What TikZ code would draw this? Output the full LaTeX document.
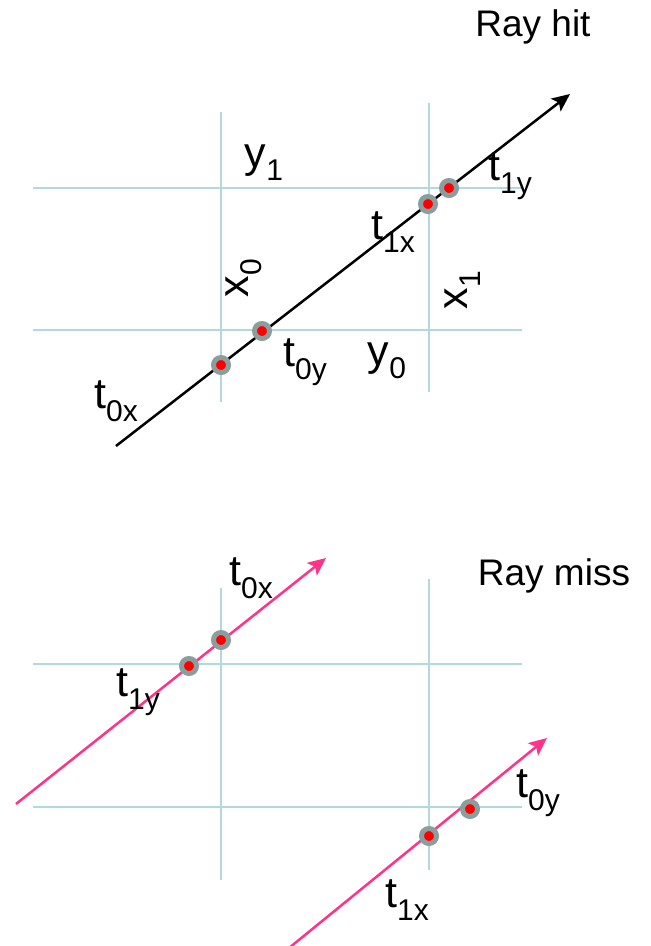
\documentclass[tikz,border=0pt]{standalone}
\usepackage{fontspec}
\setmainfont{Liberation Sans}
\usepackage{tikz}
\usetikzlibrary{
    arrows.meta
}
\usepackage{xcolor}
\definecolor{gridblue}{RGB}{178,218,222}
\definecolor{dotgrey}{RGB}{138,158,158}
\definecolor{raypink}{RGB}{255,51,136}
\newcommand{\lowsub}[1]{\raisebox{-0.3em}{\fontsize{30}{30}\selectfont #1}}

\begin{document}
\begin{tikzpicture}[
        x=1pt,
        y=-1pt,
        >={Stealth[length=18pt,width=16pt,inset=4pt]},
        gridline/.style={
            draw=gridblue,
            line width=2pt
        },
        hitray/.style={
            ->,
            line width=2.5pt
        },
        missray/.style={
            ->,
            draw=raypink,
            fill=raypink,
            line width=2.5pt
        },
        hitdot/.style={
            circle,
            draw=dotgrey,
            fill=red,
            line width=5pt,
            inner sep=0pt,
            minimum size=15pt
        },
        lbl/.style={
            inner sep=0pt,
            font=\fontsize{43}{43}\selectfont
        },
        title/.style={
            inner sep=0pt,
            font=\fontsize{37}{37}\selectfont
        }
    ]
    \useasboundingbox (0,0) rectangle (651,946);

    % ray hit
    \draw[gridline] (221,112) -- (221,402);
    \draw[gridline] (429,103) -- (429,392);
    \draw[gridline] (33,188) -- (522,188);
    \draw[gridline] (33,330) -- (522,330);

    \coordinate (hitS) at (116,446);
    \coordinate (hitE) at (570,94);
    \draw[hitray] (hitS) -- (hitE);

    \node[hitdot] (h0x) at (221,365) {};
    \node[hitdot] (h0y) at (262,331) {};
    \node[hitdot] (h1x) at (428,204) {};
    \node[hitdot] (h1y) at (449,188) {};

    \node[title] (rayhit) at (533,27) {Ray hit};
    \node[lbl] (yone) at (264,163) {y\lowsub{1}};
    \node[lbl] (lt1y) at (510,176) {t\lowsub{1y}};
    \node[lbl] (lt1x) at (393,232) {t\lowsub{1x}};
    \node[lbl, rotate=90] (xzero) at (244,278) {x\lowsub{0}};
    \node[lbl, rotate=90] (xone) at (463,290) {x\lowsub{1}};
    \node[lbl] (lt0y) at (305,362) {t\lowsub{0y}};
    \node[lbl] (yzero) at (387,361) {y\lowsub{0}};
    \node[lbl] (lt0x) at (116,401) {t\lowsub{0x}};

    % ray miss
    \draw[gridline] (221,588) -- (221,880);
    \draw[gridline] (429,579) -- (429,870);
    \draw[gridline] (33,664) -- (522,664);
    \draw[gridline] (33,807) -- (522,807);

    \coordinate (missAS) at (16,804);
    \coordinate (missAE) at (326,558);
    \coordinate (missBS) at (289,948);
    \coordinate (missBE) at (547,738);
    \draw[missray] (missAS) -- (missAE);
    \draw[missray] (missBS) -- (missBE);

    \node[hitdot] (m0x) at (221,640) {};
    \node[hitdot] (m1y) at (189,666) {};
    \node[hitdot] (m1x) at (429,836) {};
    \node[hitdot] (m0y) at (470,809) {};

    \node[title] (raymiss) at (554,576) {Ray miss};
    \node[lbl] (mt0x) at (251,578) {t\lowsub{0x}};
    \node[lbl] (mt1y) at (138,692) {t\lowsub{1y}};
    \node[lbl] (mt0y) at (538,793) {t\lowsub{0y}};
    \node[lbl] (mt1x) at (407,900) {t\lowsub{1x}};

\end{tikzpicture}
\end{document}
